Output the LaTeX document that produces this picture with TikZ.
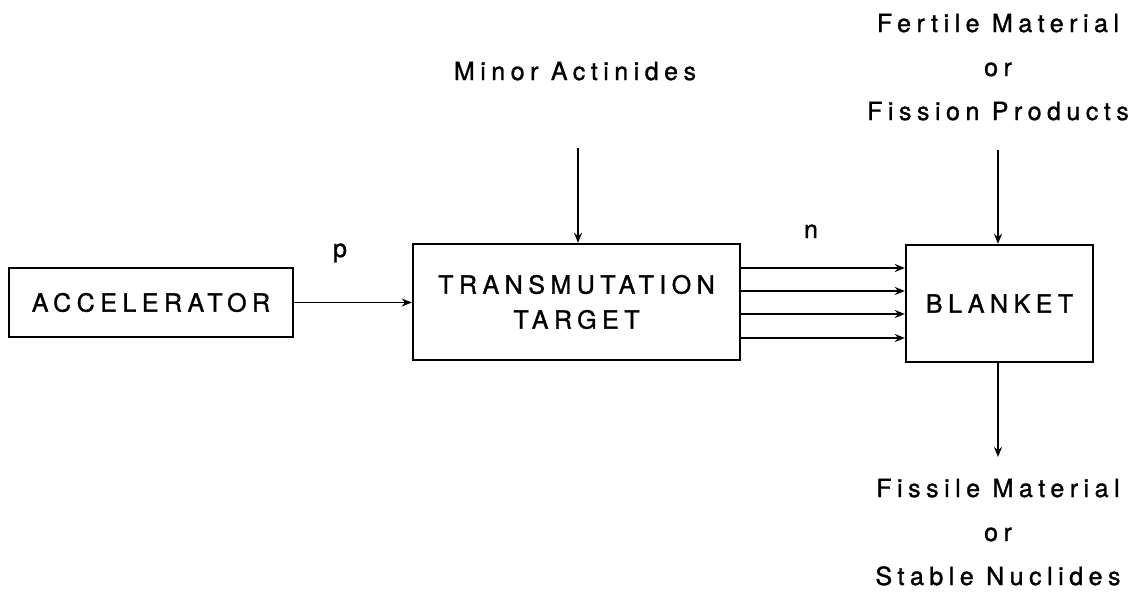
\documentclass[tikz,border=0pt]{standalone}
\usepackage{fontspec}
\setmainfont{TeX Gyre Heros}
\newfontfamily\schemafont[LetterSpace=22,FakeBold=1.2]{TeX Gyre Heros}
\usetikzlibrary{arrows.meta}
\begin{document}
\begin{tikzpicture}[x=0.5pt,y=-0.5pt,
    boite/.style={draw, line width=1.2pt, inner sep=0pt, align=center,
      font=\schemafont\fontsize{12.5}{17.5}\selectfont},
    legende/.style={anchor=base, align=center,
      font=\schemafont\fontsize{12.5}{22}\selectfont},
    fleche/.style={-{Stealth[length=5pt,width=4pt]}, line width=0.9pt}]
  \useasboundingbox (0,0) rectangle (1147,600);
  \node[boite, minimum width=142pt, minimum height=34.5pt] (accel) at (151,302.5) {ACCELERATOR};
  \node[boite, minimum width=163.5pt, minimum height=58pt] (target) at (576.5,302) {TRANSMUTATION\\TARGET};
  \node[boite, minimum width=93.5pt, minimum height=58.5pt] (blanket) at (999.5,303.5) {BLANKET};
  \node[legende] (actinides) at (575,80) {Minor Actinides};
  \node[legende] (fertile) at (998,120) {Fertile Material\\or\\Fission Products};
  \node[legende] (fissile) at (998,585) {Fissile Material\\or\\Stable Nuclides};
  \node[legende] (p) at (340,257) {p};
  \node[legende] (n) at (811,238) {n};
  \coordinate (actinides-in) at (578,148);
  \coordinate (fertile-in) at (998,150);
  \coordinate (fissile-out) at (998,457);
  \draw[fleche] (accel.east) -- (accel.east -| target.west);
  \draw[fleche] (actinides-in) -- (actinides-in |- target.north);
  \draw[fleche] (fertile-in) -- (fertile-in |- blanket.north);
  \draw[fleche] (fertile-in |- blanket.south) -- (fissile-out);
  \foreach \dy in {17,5.5,-6,-18}
    \draw[fleche] ([yshift=\dy pt]target.east) coordinate (src) -- (src -| blanket.west);
\end{tikzpicture}
\end{document}
